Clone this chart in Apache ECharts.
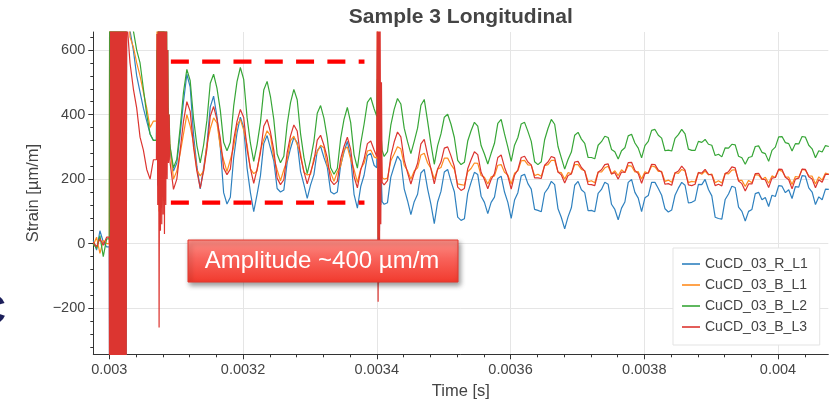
<!DOCTYPE html>
<html>
<head>
<meta charset="utf-8">
<script src="https://cdn.jsdelivr.net/npm/echarts@6/dist/echarts.min.js"></script>
<style>html,body{margin:0;padding:0;background:#fff}#c{width:833px;height:403px}</style>
</head>
<body>
<div id="c"></div>
<script>
// ---------- data ----------
const seriesNames = ['CuCD_03_R_L1', 'CuCD_03_B_L1', 'CuCD_03_B_L2', 'CuCD_03_B_L3'];
const xTicks = [0.003, 0.0032, 0.0034, 0.0036, 0.0038, 0.004];
const yTicks = [-200, 0, 200, 400, 600];

// main sampled signal: t = tStart + i * tStep
const tStart = 0.002976, tStep = 0.000005;
const R_L1 = [10, -20, 40, 5, -10,
1400, -1300, 1100, -1200, 1500, 1000,
660, 600, 520, 470, 420, 380, 340, 320,
600, 900, 200, 700,
290, 225, 250, 340, 440,
525, 485, 337, 240, 170, 233, 306, 424,
457, 394, 300, 158, 123, 144, 266, 343,
392, 360, 235, 159, 99, 153, 210, 310,
335, 296, 257, 171, 160, 166, 252, 295,
329, 313, 224, 184, 140, 182, 214, 288,
302, 267, 237, 161, 154, 160, 243, 284,
317, 268, 153, 110, 177, 212, 273,
280, 243, 198, 140, 122, 127, 206, 240,
271, 256, 170, 133, 90, 130, 153, 219,
230, 170, 122, 62, 129, 162, 222,
230, 193, 161, 82, 72, 77, 156, 190,
221, 214, 147, 128, 93, 128, 144, 202,
209, 160, 128, 78, 135, 158, 210,
215, 186, 169, 106, 103, 99, 157, 171,
193, 183, 108, 81, 46, 83, 111, 181,
193, 167, 158, 102, 103, 99, 156, 168,
190, 184, 122, 106, 74, 110, 129, 190,
199, 159, 141, 99, 142, 149, 190,
190, 171, 150, 108, 98, 104, 150, 172,
190, 181, 126, 128, 134, 184, 183,
199, 168, 148, 82, 78, 76, 137, 154,
178, 174, 113, 100, 70, 100, 106, 155,
159, 136, 143, 115, 150, 146, 180,
178, 158, 167, 140, 177, 175, 211,
209, 173, 160, 121, 145, 136, 169, 168];

const B_L1 = [-5, 20, -30, 10, 0,
1100, -1200, 1300, -900, 1000, 800,
640, 610, 560, 520, 470, 420, 360, 380,
500, 700, 100, 600,
300, 200, 225, 280, 340,
400, 364, 311, 228, 210, 225, 307, 356,
390, 374, 300, 259, 223, 260, 299, 367,
385, 352, 307, 232, 217, 225, 290, 323,
350, 335, 266, 229, 195, 229, 259, 319,
333, 307, 279, 221, 213, 215, 265, 284,
305, 297, 242, 221, 193, 222, 241, 291,
300, 261, 230, 190, 232, 249, 287,
290, 269, 242, 210, 200, 203, 257, 278,
300, 294, 243, 226, 200, 225, 235, 275,
280, 250, 233, 200, 231, 236, 265,
265, 245, 230, 185, 183, 181, 223, 233,
250, 249, 211, 206, 185, 207, 210, 243,
245, 221, 213, 185, 218, 226, 257,
258, 244, 243, 211, 215, 209, 242, 245,
258, 258, 222, 220, 200, 220, 217, 245,
245, 230, 226, 192, 195, 189, 222, 222,
235, 240, 216, 226, 211, 229, 220, 242,
240, 222, 223, 200, 223, 218, 241,
238, 224, 224, 193, 197, 190, 220, 218,
230, 225, 189, 193, 191, 221, 215,
225, 213, 216, 189, 195, 188, 218, 216,
228, 229, 196, 196, 177, 196, 189, 214,
212, 199, 206, 187, 210, 205, 228,
225, 207, 206, 183, 208, 206, 230,
228, 210, 209, 185, 207, 197, 219, 215];

const B_L2 = [0, -15, 25, -40, 15,
1200, -900, 1400, -1100, 1300, 1000,
720, 660, 600, 560, 480, 400, 340, 320,
800, 1000, 900, 800,
300, 235, 262, 360, 470,
540, 505, 388, 304, 250, 305, 382, 497,
525, 482, 414, 314, 288, 314, 426, 502,
546, 509, 392, 312, 255, 307, 375, 476,
503, 456, 385, 278, 251, 271, 370, 437,
478, 446, 341, 268, 217, 261, 317, 404,
428, 389, 327, 235, 215, 233, 326, 385,
422, 375, 276, 234, 311, 370, 438,
453, 418, 360, 290, 270, 285, 367, 416,
450, 433, 358, 316, 279, 317, 358, 429,
447, 380, 309, 246, 304, 340, 392,
401, 370, 329, 258, 245, 252, 318, 350,
376, 364, 304, 278, 247, 280, 311, 373,
385, 340, 299, 255, 305, 329, 371,
376, 348, 317, 254, 245, 254, 322, 357,
385, 370, 301, 266, 231, 261, 284, 336,
345, 324, 311, 267, 267, 263, 305, 316,
333, 329, 292, 285, 262, 288, 297, 334,
339, 312, 296, 266, 304, 317, 351,
354, 336, 327, 288, 290, 287, 326, 338,
354, 340, 293, 289, 289, 317, 314,
323, 308, 305, 273, 277, 269, 297, 296,
308, 306, 271, 266, 246, 267, 270, 301,
303, 283, 279, 255, 289, 299, 331,
332, 313, 310, 287, 310, 309, 332,
330, 305, 294, 266, 288, 284, 304, 301];

const B_L3 = [5, -10, 15, -5, 20,
-1300, 1500, -1000, 1200, -1400, 900,
560, 480, 420, 330, 290, 230, 200, 260,
-260, 800, -100, 500,
250, 168, 200, 290, 380,
440, 410, 299, 225, 172, 225, 294, 395,
425, 385, 327, 234, 214, 231, 322, 379,
416, 391, 294, 233, 187, 231, 281, 364,
385, 346, 290, 203, 183, 198, 282, 334,
368, 349, 270, 224, 185, 221, 255, 321,
336, 305, 266, 196, 183, 193, 263, 301,
330, 292, 208, 173, 228, 262, 310,
318, 290, 248, 199, 182, 195, 271, 315,
346, 331, 259, 220, 185, 219, 249, 309,
323, 275, 232, 185, 231, 253, 296,
300, 272, 239, 175, 165, 171, 232, 260,
285, 276, 221, 199, 170, 199, 217, 267,
275, 237, 209, 169, 212, 229, 267,
271, 253, 244, 204, 204, 202, 243, 253,
270, 266, 222, 213, 188, 211, 216, 253,
255, 236, 225, 184, 183, 180, 221, 229,
245, 247, 216, 220, 200, 222, 221, 251,
252, 227, 217, 187, 217, 219, 246,
245, 228, 221, 184, 186, 181, 219, 225,
240, 228, 182, 180, 184, 220, 219,
230, 215, 213, 180, 184, 179, 217, 223,
238, 235, 194, 186, 163, 185, 185, 217,
218, 200, 198, 174, 203, 205, 231,
230, 206, 198, 170, 200, 203, 231,
230, 207, 200, 173, 198, 190, 215, 215];

// impact burst, finely sampled: t = burstStart + k * fineStep
const fineStep = 0.000001;
const burstStart = 0.003000;
const burstR_L1 = [-10, -1300, 1500, -1200, 1400, -1500, 1300, -1100, 1600, -1300, 1200, -1400, 1500, -1200, 1300, -1500, 1400, -1300, 1100, -1400, 1500, -1200, 1300, -1100, 1200, -800, 950];
const burstB_L1 = [0, 1400, -1300, 1500, -1100, 1300, -1400, 1200, -1500, 1400, -1300, 1100, -1200, 1500, -1400, 1300, -1200, 1400, -1500, 1200, -1300, 1400, -1100, 1200, -1000, 1300, 850];
const burstB_L2 = [15, 1500, -1200, 1400, -1300, 1600, -1000, 1500, -1400, 1300, -1200, 1500, -1300, 1400, -1100, 1600, -1500, 1200, -1300, 1400, -1200, 1500, -1000, 1300, -900, 1100, 900];
const burstB_L3 = [20, -1400, 1300, -1500, 1200, -1300, 1600, -1400, 1100, -1200, 1500, -1300, 1400, -1500, 1200, -1100, 1300, -1400, 1500, -1200, 1100, -1300, 1400, -1200, 1300, -1000, 700];

// second disturbance near 0.00307 s
const spike1Start = 0.0030705;
const spike1R_L1 = [320, 650, 180, 750, 120, 800, 140, 700, 160, 720, 150, 680, 200, 600, 250, 500, 280, 420, 290, 330, 295];
const spike1B_L1 = [380, 700, 200, 800, 100, 750, 150, 820, 120, 780, 200, 700, 160, 650, 240, 560, 260, 420, 300, 360, 310];
const spike1B_L2 = [320, 600, 300, 700, 250, 800, 300, 900, 400, 950, 350, 1000, 500, 900, 400, 800, 350, 600, 330, 400, 310];
const spike1B_L3 = [260, 650, 120, 900, -260, 700, 40, 800, 60, 850, 90, 900, 30, 760, 120, 820, 200, 600, 250, 400, 260];

// spike near 0.0034 s
const spike2Start = 0.003400;
const spike2R_L1 = [235, 600, -60, 480, 40, 300, 120, 190, 130];
const spike2B_L1 = [265, 700, 20, 600, 110, 420, 190, 260, 205];
const spike2B_L2 = [395, 510, 340, 480, 320, 430, 300, 320, 290];
const spike2B_L3 = [270, 900, -180, 850, -120, 700, 60, 500, 190];

// amplitude marker (dashed lines)
const ampStart = 0.0030921, ampEnd = 0.0033816;
const ampTop = 564, ampBottom = 127;
const annotationText = 'Amplitude ~400 µm/m';

// ---------- build ----------
function build(coarse, segs) {
  const pts = [];
  coarse.forEach((v, i) => {
    const t = tStart + i * tStep;
    const inside = segs.some(s => t >= s.start - 1e-10 && t <= s.start + (s.vals.length - 1) * fineStep + 1e-10);
    if (!inside) pts.push([t, v]);
  });
  segs.forEach(s => s.vals.forEach((v, k) => pts.push([s.start + k * fineStep, v])));
  pts.sort((a, b) => a[0] - b[0]);
  return pts;
}
const allData = [
  build(R_L1, [{start: burstStart, vals: burstR_L1}, {start: spike1Start, vals: spike1R_L1}, {start: spike2Start, vals: spike2R_L1}]),
  build(B_L1, [{start: burstStart, vals: burstB_L1}, {start: spike1Start, vals: spike1B_L1}, {start: spike2Start, vals: spike2B_L1}]),
  build(B_L2, [{start: burstStart, vals: burstB_L2}, {start: spike1Start, vals: spike1B_L2}, {start: spike2Start, vals: spike2B_L2}]),
  build(B_L3, [{start: burstStart, vals: burstB_L3}, {start: spike1Start, vals: spike1B_L3}, {start: spike2Start, vals: spike2B_L3}])
];
const colors = ['#2f81bf', '#ff8c1f', '#37a637', '#dc3530'];

const xMin = 0.0029761, xMax = 0.0040752, yMin = -343, yMax = 656;
const xMajor = 0.0002, yMajor = 200;
function minors(ticks, step, lo, hi) {
  const out = [];
  for (let k = -1; k < ticks.length; k++) {
    const base = k < 0 ? ticks[0] - step : ticks[k];
    for (let j = 1; j < 5; j++) {
      const v = +(base + j * step / 5).toPrecision(8);
      if (v > lo && v < hi) out.push(v);
    }
  }
  return out;
}
const xMinor = minors(xTicks, xMajor, xMin, xMax);
const yMinor = minors(yTicks, yMajor, yMin, yMax);

const FONT = '"Liberation Sans", Arial, Helvetica, sans-serif';
const axisColor = '#444';

const series = seriesNames.map((n, i) => ({
  name: n, type: 'line', data: allData[i], showSymbol: false, symbol: 'none',
  lineStyle: {color: colors[i], width: 1.2}, itemStyle: {color: colors[i]},
  silent: true, animation: false, z: 2 + i
}));
series.push({
  name: 'ampTop', type: 'line', data: [[ampStart, ampTop], [ampEnd, ampTop]], showSymbol: false, symbol: 'none',
  lineStyle: {color: '#ff0000', width: 4.3, type: [18, 13.3], cap: 'butt'}, silent: true, z: 10
});
series.push({
  name: 'ampBottom', type: 'line', data: [[ampStart, ampBottom], [ampEnd, ampBottom]], showSymbol: false, symbol: 'none',
  lineStyle: {color: '#ff0000', width: 4.3, type: [18, 13.3], cap: 'butt'}, silent: true, z: 10
});

const chart = echarts.init(document.getElementById('c'), null, {renderer: 'canvas'});
chart.setOption({
  animation: false,
  backgroundColor: '#fff',
  textStyle: {fontFamily: FONT},
  grid: {left: 93.3, right: 4.7, top: 32, bottom: 48.7, containLabel: false, outerBoundsMode: 'none'},
  legend: {
    data: seriesNames, orient: 'vertical', left: 673, top: 248,
    padding: [8, 12, 10, 9], itemGap: 5, itemWidth: 18, itemHeight: 1.6, icon: 'rect',
    backgroundColor: '#fff', borderColor: '#e3e3e3', borderWidth: 1, borderRadius: 0,
    textStyle: {fontSize: 14, color: axisColor, lineHeight: 16, fontFamily: FONT},
    selectedMode: false
  },
  xAxis: [{
    type: 'value', min: xMin, max: xMax,
    name: 'Time [s]', nameLocation: 'middle', nameGap: 29,
    nameTextStyle: {fontSize: 16.5, color: axisColor, fontFamily: FONT},
    axisLine: {show: true, onZero: false, lineStyle: {color: '#333', width: 1}},
    axisTick: {show: true, customValues: xTicks, length: 5, lineStyle: {color: '#333', width: 1}},
    axisLabel: {customValues: xTicks, fontSize: 14.5, color: axisColor, margin: 8, fontFamily: FONT,
      formatter: v => String(parseFloat(Number(v).toPrecision(3)))},
    splitLine: {show: true, lineStyle: {color: '#e5e5e5', width: 1}},
    minorTick: {show: false}
  }, {
    type: 'value', min: xMin, max: xMax, position: 'bottom',
    axisLine: {show: false, onZero: false},
    axisTick: {show: true, customValues: xMinor, length: 3, lineStyle: {color: '#333', width: 1}},
    axisLabel: {show: false}, splitLine: {show: false}
  }],
  yAxis: [{
    type: 'value', min: yMin, max: yMax,
    name: 'Strain [µm/m]', nameLocation: 'middle', nameGap: 49, nameRotate: 90,
    nameTextStyle: {fontSize: 16.5, color: axisColor, fontFamily: FONT},
    axisLine: {show: true, onZero: false, lineStyle: {color: '#333', width: 1}},
    axisTick: {show: true, customValues: yTicks, length: 5, lineStyle: {color: '#333', width: 1}},
    axisLabel: {customValues: yTicks, fontSize: 14.5, color: axisColor, margin: 8, fontFamily: FONT,
      formatter: v => (v < 0 ? '\u2212' + Math.abs(v) : String(v))},
    splitLine: {show: true, lineStyle: {color: '#e5e5e5', width: 1}}
  }, {
    type: 'value', min: yMin, max: yMax, position: 'left',
    axisLine: {show: false, onZero: false},
    axisTick: {show: true, customValues: yMinor, length: 3, lineStyle: {color: '#333', width: 1}},
    axisLabel: {show: false}, splitLine: {show: false}
  }],
  series: series,
  graphic: [
    {type: 'text', x: 460.8, y: 17, z: 100, silent: true,
      style: {text: 'Sample 3 Longitudinal', font: 'bold 21px ' + FONT, fill: '#444',
        align: 'center', verticalAlign: 'middle', textAlign: 'center', textVerticalAlign: 'middle'}},
    {type: 'text', x: 6, y: 312, z: 100, silent: true,
      style: {text: 'C', font: 'bold 42px ' + FONT, fill: '#1c1f5a',
        align: 'right', verticalAlign: 'middle', textAlign: 'right', textVerticalAlign: 'middle'}},
    {type: 'rect', z: 100, silent: true,
      shape: {x: 188, y: 240, width: 270, height: 42},
      style: {
        fill: {type: 'linear', x: 0, y: 0, x2: 0, y2: 1, colorStops: [
          {offset: 0, color: '#fc8e86'}, {offset: 0.45, color: '#f8625a'}, {offset: 1, color: '#f13a2d'}]},
        stroke: '#e4392f', lineWidth: 1,
        shadowBlur: 5, shadowOffsetX: 2, shadowOffsetY: 3, shadowColor: 'rgba(0,0,0,0.4)'
      }},
    {type: 'text', x: 322, y: 261.5, z: 101, silent: true,
      style: {text: annotationText, font: '24px ' + FONT, fill: '#ffffff',
        align: 'center', verticalAlign: 'middle', textAlign: 'center', textVerticalAlign: 'middle'}}
  ]
});
</script>
</body>
</html>
